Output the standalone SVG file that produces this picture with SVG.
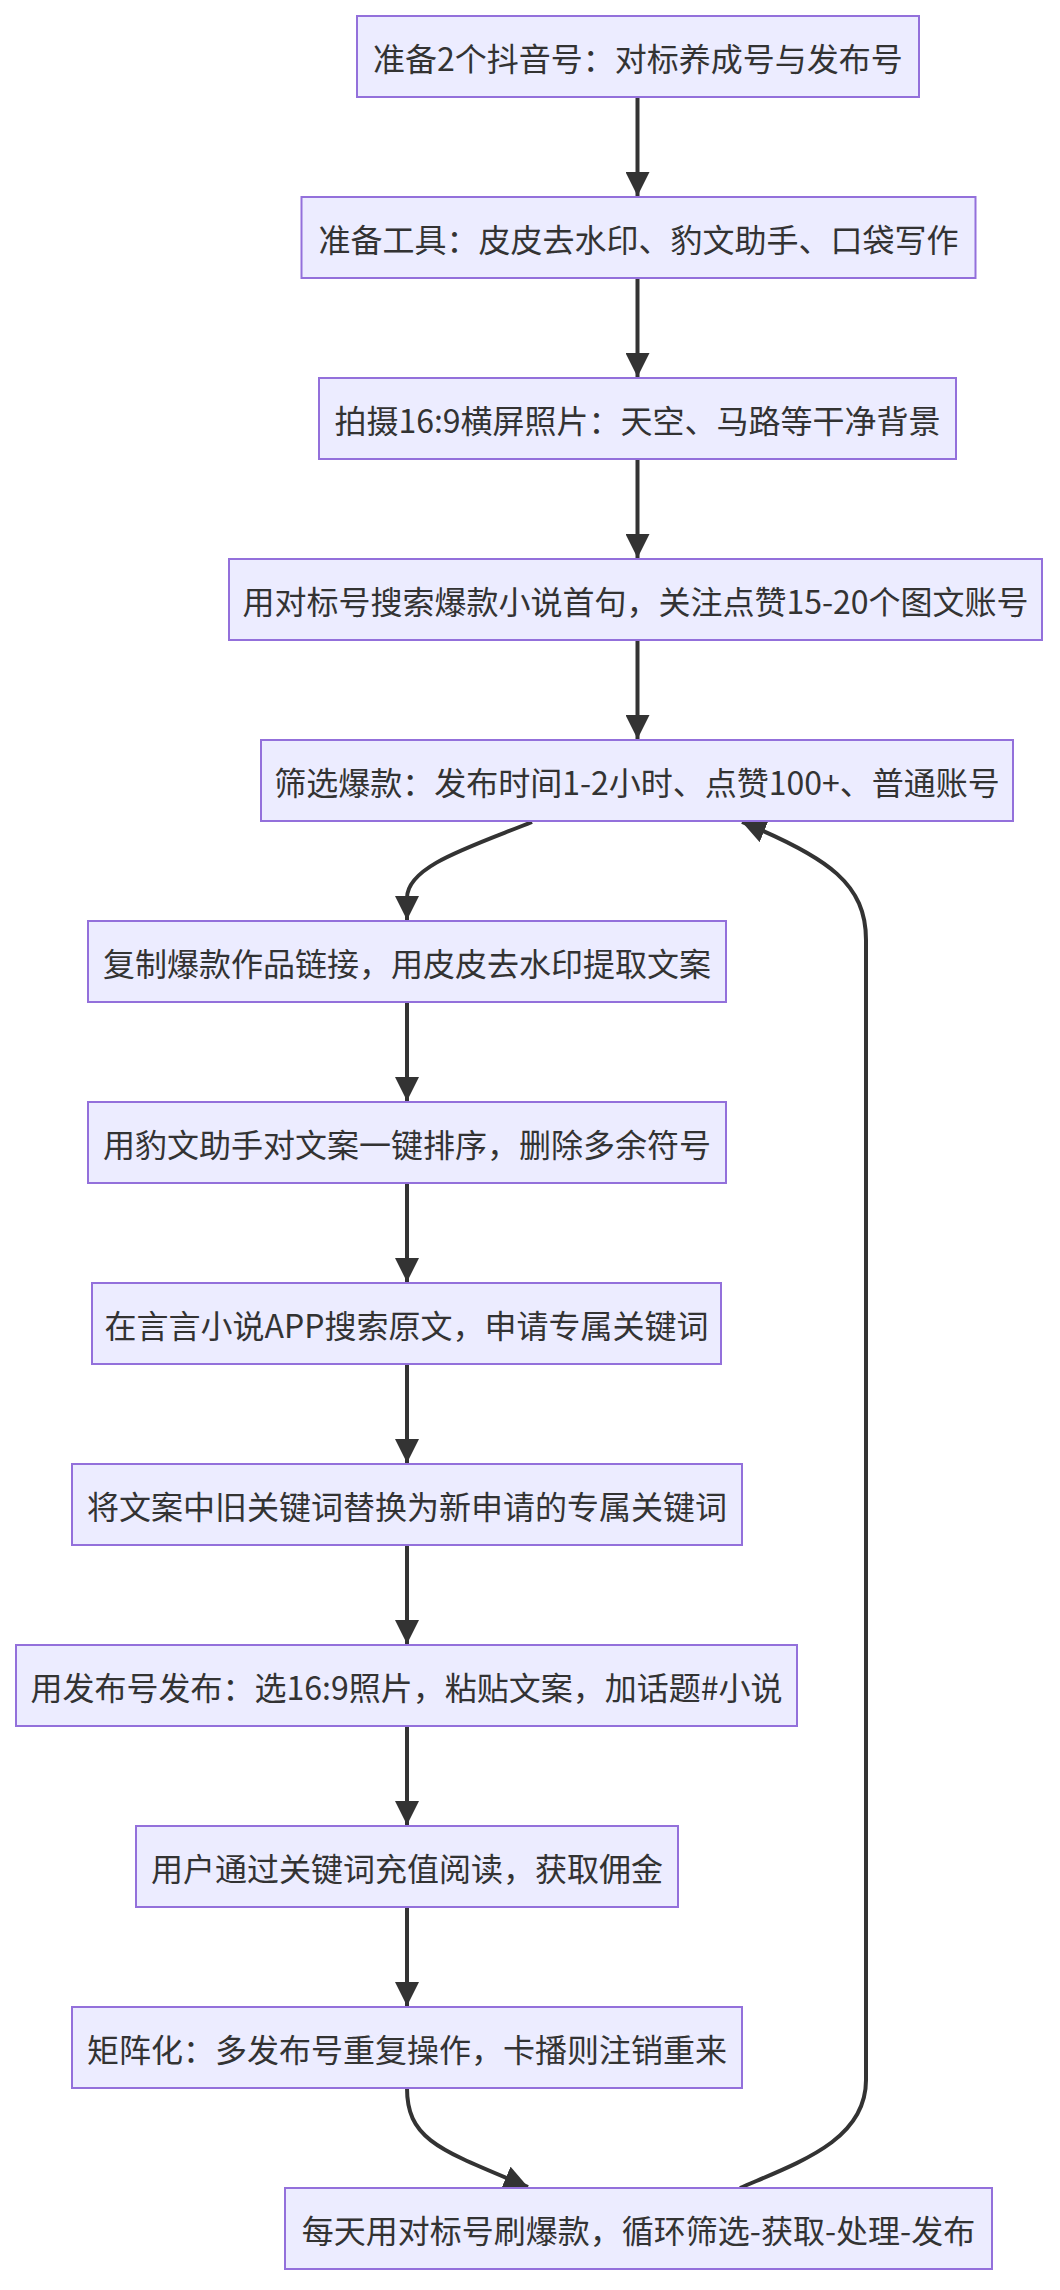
<svg xmlns="http://www.w3.org/2000/svg" width="1060" height="2290" viewBox="0 0 1060 2290">
<style>
.node rect{fill:#ECECFF;stroke:#9370DB;stroke-width:2}
.node text{font-family:"Noto Sans CJK SC","Liberation Sans",sans-serif;font-size:32px;fill:#333333;text-anchor:middle;dominant-baseline:central}
.edges path{fill:none;stroke:#333333;stroke-width:4;marker-end:url(#arrow)}
</style>
<defs>
<marker id="arrow" viewBox="0 0 10 10" refX="10" refY="5" markerWidth="24" markerHeight="24" markerUnits="userSpaceOnUse" orient="auto">
<path d="M0,0 L10,5 L0,10 z" fill="#333333"/>
</marker>
</defs>
<rect width="1060" height="2290" fill="#ffffff"/>
<g class="edges">
<path d="M637.5,97 L637.5,196"/>
<path d="M637.5,278 L637.5,377"/>
<path d="M637.5,459 L637.5,558"/>
<path d="M637.5,640 L637.5,739"/>
<path d="M532,822 C470,847 407,866 407,898 L407,920"/>
<path d="M407,1002 L407,1101"/>
<path d="M407,1183 L407,1282"/>
<path d="M407,1364 L407,1463"/>
<path d="M407,1545 L407,1644"/>
<path d="M407,1726 L407,1825"/>
<path d="M407,1907 L407,2006"/>
<path d="M407,2088 C407,2140 440,2150 528,2187"/>
<path d="M740,2188 C800,2162 866,2140 866,2080 L866,940 C866,885 830,858 742,822"/>
</g>
<g id="n1" class="node"><rect x="357" y="16" width="562" height="81"/><text x="638" y="56.5">准备2个抖音号：对标养成号与发布号</text></g>
<g id="n2" class="node"><rect x="301.5" y="197" width="674" height="81"/><text x="638.5" y="237.5">准备工具：皮皮去水印、豹文助手、口袋写作</text></g>
<g id="n3" class="node"><rect x="319" y="378" width="637" height="81"/><text x="637.5" y="418.5">拍摄16:9横屏照片：天空、马路等干净背景</text></g>
<g id="n4" class="node"><rect x="229" y="559" width="813" height="81"/><text x="635.5" y="599.5">用对标号搜索爆款小说首句，关注点赞15-20个图文账号</text></g>
<g id="n5" class="node"><rect x="261" y="740" width="752" height="81"/><text x="637" y="780.5">筛选爆款：发布时间1-2小时、点赞100+、普通账号</text></g>
<g id="n6" class="node"><rect x="88" y="921" width="638" height="81"/><text x="407" y="961.5">复制爆款作品链接，用皮皮去水印提取文案</text></g>
<g id="n7" class="node"><rect x="88" y="1102" width="638" height="81"/><text x="407" y="1142.5">用豹文助手对文案一键排序，删除多余符号</text></g>
<g id="n8" class="node"><rect x="92" y="1283" width="629" height="81"/><text x="406.5" y="1323.5">在言言小说APP搜索原文，申请专属关键词</text></g>
<g id="n9" class="node"><rect x="72" y="1464" width="670" height="81"/><text x="407" y="1504.5">将文案中旧关键词替换为新申请的专属关键词</text></g>
<g id="n10" class="node"><rect x="16" y="1645" width="781" height="81"/><text x="406.5" y="1685.5">用发布号发布：选16:9照片，粘贴文案，加话题#小说</text></g>
<g id="n11" class="node"><rect x="136" y="1826" width="542" height="81"/><text x="407" y="1866.5">用户通过关键词充值阅读，获取佣金</text></g>
<g id="n12" class="node"><rect x="72" y="2007" width="670" height="81"/><text x="407" y="2047.5">矩阵化：多发布号重复操作，卡播则注销重来</text></g>
<g id="n13" class="node"><rect x="285" y="2188" width="707" height="81"/><text x="638.5" y="2228.5">每天用对标号刷爆款，循环筛选-获取-处理-发布</text></g>
</svg>
